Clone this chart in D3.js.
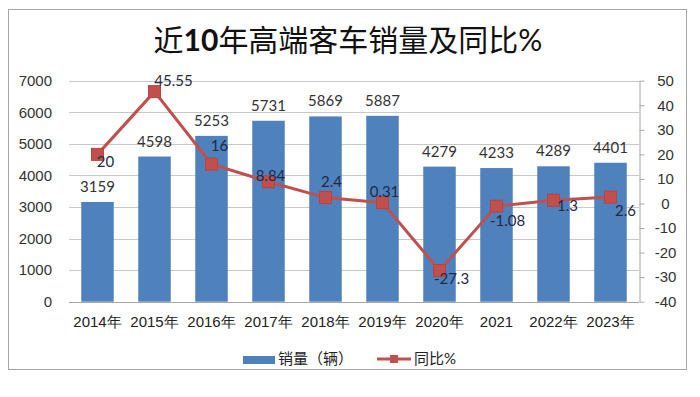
<!DOCTYPE html>
<html>
<head>
<meta charset="utf-8">
<script src="https://cdn.jsdelivr.net/npm/d3@7"></script>
<style>
  body { margin: 0; background: #fff; }
  svg { display: block; font-family: Lato, "Noto Sans CJK SC", sans-serif; }
</style>
</head>
<body>
<svg id="chart" width="700" height="397"></svg>
<script>
// chart data
var years = ["2014年", "2015年", "2016年", "2017年", "2018年", "2019年", "2020年", "2021", "2022年", "2023年"],
  sales = [3159, 4598, 5253, 5731, 5869, 5887, 4279, 4233, 4289, 4401],
  yoy = [20, 45.55, 16, 8.84, 2.4, 0.31, -27.3, -1.08, 1.3, 2.6],
  yoyLabels = ["20", "45.55", "16", "8.84", "2.4", "0.31", "-27.3", "-1.08", "1.3", "2.6"],
  leftTicks = [0, 1000, 2000, 3000, 4000, 5000, 6000, 7000],
  rightTicks = [-40, -30, -20, -10, 0, 10, 20, 30, 40, 50];

// where each % label sits relative to its marker (like excel did it)
var labelShift = [[8, 7], [19, -11], [8, -18], [2, -6], [6, -16], [2, -11], [12, 8], [11, 15], [14, 5], [15, 14]];

var svg = d3.select("#chart"),
  plotL = 69, plotR = 639, plotT = 80.7, plotB = 301.7;

var blue = "#4f81bd", red = "#c0504d";

// frame
svg.append("rect")
  .attr("x", 8.5).attr("y", 9.5)
  .attr("width", 678).attr("height", 360)
  .attr("fill", "#fff")
  .attr("stroke", "#a6a6a6");

// title
var title = svg.append("text")
  .attr("x", 348).attr("y", 51)
  .attr("text-anchor", "middle")
  .style("font-size", "30px")
  .style("fill", "#111");
title.append("tspan").text("近");
title.append("tspan").style("font-weight", "bold").text("10");
title.append("tspan").text("年高端客车销量及同比%");

var x = d3.scaleBand().domain(years).range([plotL, plotR]).paddingInner(0.43).paddingOuter(0.215);
var y = d3.scaleLinear().domain([0, 7000]).range([plotB, plotT]);
var y2 = d3.scaleLinear().domain([-40, 50]).range([plotB, plotT]);

// gridlines
svg.append("g").selectAll("line")
  .data(leftTicks)
  .enter().append("line")
    .attr("x1", plotL).attr("x2", plotR)
    .attr("y1", function(d) { return Math.round(y(d)) + 0.5; })
    .attr("y2", function(d) { return Math.round(y(d)) + 0.5; })
    .attr("stroke", function(d) { return d == 0 ? "#a6a6a6" : "#c8c8c8"; });

// left axis
var gl = svg.append("g")
  .attr("transform", "translate(" + (plotL - 2) + ",0)")
  .call(d3.axisLeft(y).tickValues(leftTicks).tickFormat(String).tickSize(0).tickPadding(15));
gl.select(".domain").remove();
gl.selectAll("text").style("font-size", "15px").style("fill", "#333");

// right axis (plain hyphen minus like excel)
var gr = svg.append("g")
  .attr("transform", "translate(" + (plotR + 0.5) + ",0)")
  .call(d3.axisRight(y2).tickValues(rightTicks).tickFormat(String).tickSize(5).tickSizeOuter(0).tickPadding(0));
gr.select(".domain").attr("stroke", "#a6a6a6");
gr.selectAll(".tick line").attr("stroke", "#a6a6a6");
gr.selectAll("text")
  .attr("x", 26)
  .attr("text-anchor", "middle")
  .style("font-size", "15px")
  .style("fill", "#333");

// x labels
var gx = svg.append("g")
  .attr("transform", "translate(0," + plotB + ")")
  .call(d3.axisBottom(x).tickSize(0).tickPadding(15));
gx.select(".domain").remove();
gx.selectAll("text").style("font-size", "15px").style("fill", "#222");

// bars
svg.append("g").selectAll("rect")
  .data(sales)
  .enter().append("rect")
    .attr("x", function(d, i) { return x(years[i]); })
    .attr("y", function(d) { return y(d); })
    .attr("width", x.bandwidth())
    .attr("height", function(d) { return plotB - y(d); })
    .attr("fill", blue);

// bar values
svg.append("g").selectAll("text")
  .data(sales)
  .enter().append("text")
    .attr("x", function(d, i) { return x(years[i]) + x.bandwidth() / 2; })
    .attr("y", function(d) { return y(d) - 10; })
    .attr("text-anchor", "middle")
    .style("font-size", "15px")
    .style("fill", "#333")
    .text(function(d) { return d; });

// line
var cx = function(i) { return x(years[i]) + x.bandwidth() / 2; };
var line = d3.line()
  .x(function(d, i) { return cx(i); })
  .y(function(d) { return y2(d); });

svg.append("path")
  .datum(yoy)
  .attr("d", line)
  .attr("fill", "none")
  .attr("stroke", red)
  .attr("stroke-width", 3);

svg.append("g").selectAll("rect")
  .data(yoy)
  .enter().append("rect")
    .attr("x", function(d, i) { return cx(i) - 6; })
    .attr("y", function(d) { return y2(d) - 6; })
    .attr("width", 12).attr("height", 12)
    .attr("fill", red)
    .attr("stroke", "#b8433f");

// % labels
svg.append("g").selectAll("text")
  .data(yoy)
  .enter().append("text")
    .attr("x", function(d, i) { return cx(i) + labelShift[i][0]; })
    .attr("y", function(d, i) { return y2(d) + labelShift[i][1]; })
    .attr("dy", "0.35em")
    .attr("text-anchor", "middle")
    .style("font-size", "15px")
    .style("fill", "#1f2a44")
    .text(function(d, i) { return yoyLabels[i]; });

// legend
var lg = svg.append("g");
lg.append("rect")
  .attr("x", 243).attr("y", 356)
  .attr("width", 32).attr("height", 8)
  .attr("fill", blue);
lg.append("text")
  .attr("x", 278).attr("y", 364)
  .style("font-size", "15px").style("fill", "#222")
  .text("销量（辆）");
lg.append("line")
  .attr("x1", 377).attr("x2", 411)
  .attr("y1", 359).attr("y2", 359)
  .attr("stroke", red).attr("stroke-width", 3);
lg.append("rect")
  .attr("x", 390).attr("y", 355)
  .attr("width", 8).attr("height", 8)
  .attr("fill", red);
lg.append("text")
  .attr("x", 414).attr("y", 364)
  .style("font-size", "15px").style("fill", "#222")
  .text("同比%");
</script>
</body>
</html>
